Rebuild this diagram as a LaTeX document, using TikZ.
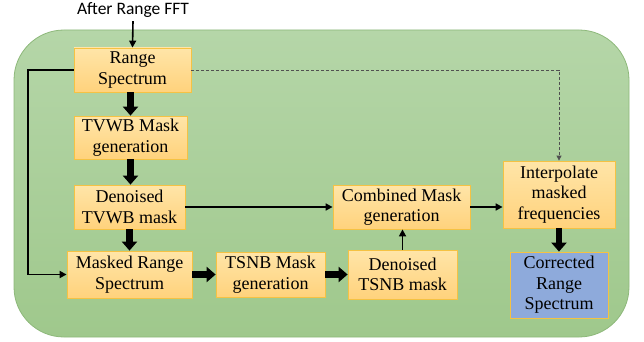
\documentclass[tikz,border=0pt]{standalone}
\usepackage{fontspec}
\newfontfamily\serfont{Liberation Serif}
\newfontfamily\titlefont{Carlito}
\usetikzlibrary{arrows.meta}
\definecolor{bgtop}{HTML}{B5D6A8}
\definecolor{bgbot}{HTML}{9FC88C}
\definecolor{bgborder}{HTML}{8DB87A}
\definecolor{boxtop}{HTML}{FFE5A8}
\definecolor{boxbot}{HTML}{FFD27C}
\definecolor{boxborder}{HTML}{F5C243}
\definecolor{bluefill}{HTML}{8EAADB}
\definecolor{dashgray}{HTML}{505050}
\tikzset{
  procbox/.style={draw=boxborder, line width=0.8pt, top color=boxtop, bottom color=boxbot,
    align=center, inner sep=0pt, font=\serfont\fontsize{18}{20.5}\selectfont},
  bluebox/.style={draw=boxborder, line width=0.8pt, fill=bluefill,
    align=center, inner sep=0pt, font=\serfont\fontsize{18}{20.5}\selectfont},
  bigarrow/.style={line width=6.5pt, -{Triangle[width=15pt,length=9pt]}},
  thinarrow/.style={line width=1.6pt, -{Triangle[width=7pt,length=7pt]}},
  looparrow/.style={line width=1.8pt, -{Triangle[width=7pt,length=7pt]}},
  dasharrow/.style={draw=dashgray, line width=0.8pt, dash pattern=on 3pt off 2pt,
    -{Triangle[width=5pt,length=5pt]}}
}
\begin{document}
\begin{tikzpicture}[x=1pt,y=-1pt]
\useasboundingbox (0,0) rectangle (644,342);
% background panel
\path[draw=bgborder, line width=0.8pt, top color=bgtop, bottom color=bgbot,
  rounded corners=50pt] (14,30) rectangle (629,337);

\node[font=\titlefont\fontsize{17.5}{20}\selectfont] (title) at (133,10) {After Range FFT};

\node[procbox, minimum width=117pt, minimum height=44pt] (rs) at (132.5,70) {Range\\Spectrum};
\node[procbox, minimum width=113pt, minimum height=43pt] (tv) at (130.5,137.5) {TVWB Mask\\generation};
\node[procbox, minimum width=111pt, minimum height=44pt] (dtv) at (129.5,207) {Denoised\\TVWB mask};
\node[procbox, minimum width=125pt, minimum height=47pt] (mrs) at (129.5,274.5) {Masked Range\\Spectrum};
\node[procbox, minimum width=109pt, minimum height=45pt] (tsnb) at (270.5,274.5) {TSNB Mask\\generation};
\node[procbox, minimum width=109pt, minimum height=49pt] (dts) at (402.5,274.5) {Denoised\\TSNB mask};
\node[procbox, minimum width=137pt, minimum height=44pt] (cmb) at (401.5,207) {Combined Mask\\generation};
\node[procbox, minimum width=112pt, minimum height=67pt] (interp) at (559,194.5) {Interpolate\\masked\\frequencies};
\node[bluebox, minimum width=98pt, minimum height=66pt] (corr) at (559,285) {Corrected\\Range\\Spectrum};

% connectors
\draw[thinarrow] (title.south) -- (rs.north);
\draw[bigarrow] (tv.north |- rs.south) -- (tv.north);
\draw[bigarrow] (tv.south) -- (tv.south |- dtv.north);
\draw[bigarrow] (dtv.south) -- (dtv.south |- mrs.north);
\draw[looparrow] (rs.west) -- ++(-46,0) |- (mrs.west);
\draw[bigarrow] (mrs.east) -- (tsnb.west);
\draw[bigarrow] (tsnb.east) -- (dts.west);
\draw[thinarrow] (dts.north) -- (dts.north |- cmb.south);
\draw[thinarrow] (dtv.east) -- (cmb.west);
\draw[thinarrow] (cmb.east) -- (cmb.east -| interp.west);
\draw[dasharrow] (rs.east) -| (interp.north);
\draw[bigarrow] (interp.south) -- (corr.north);
\end{tikzpicture}
\end{document}
